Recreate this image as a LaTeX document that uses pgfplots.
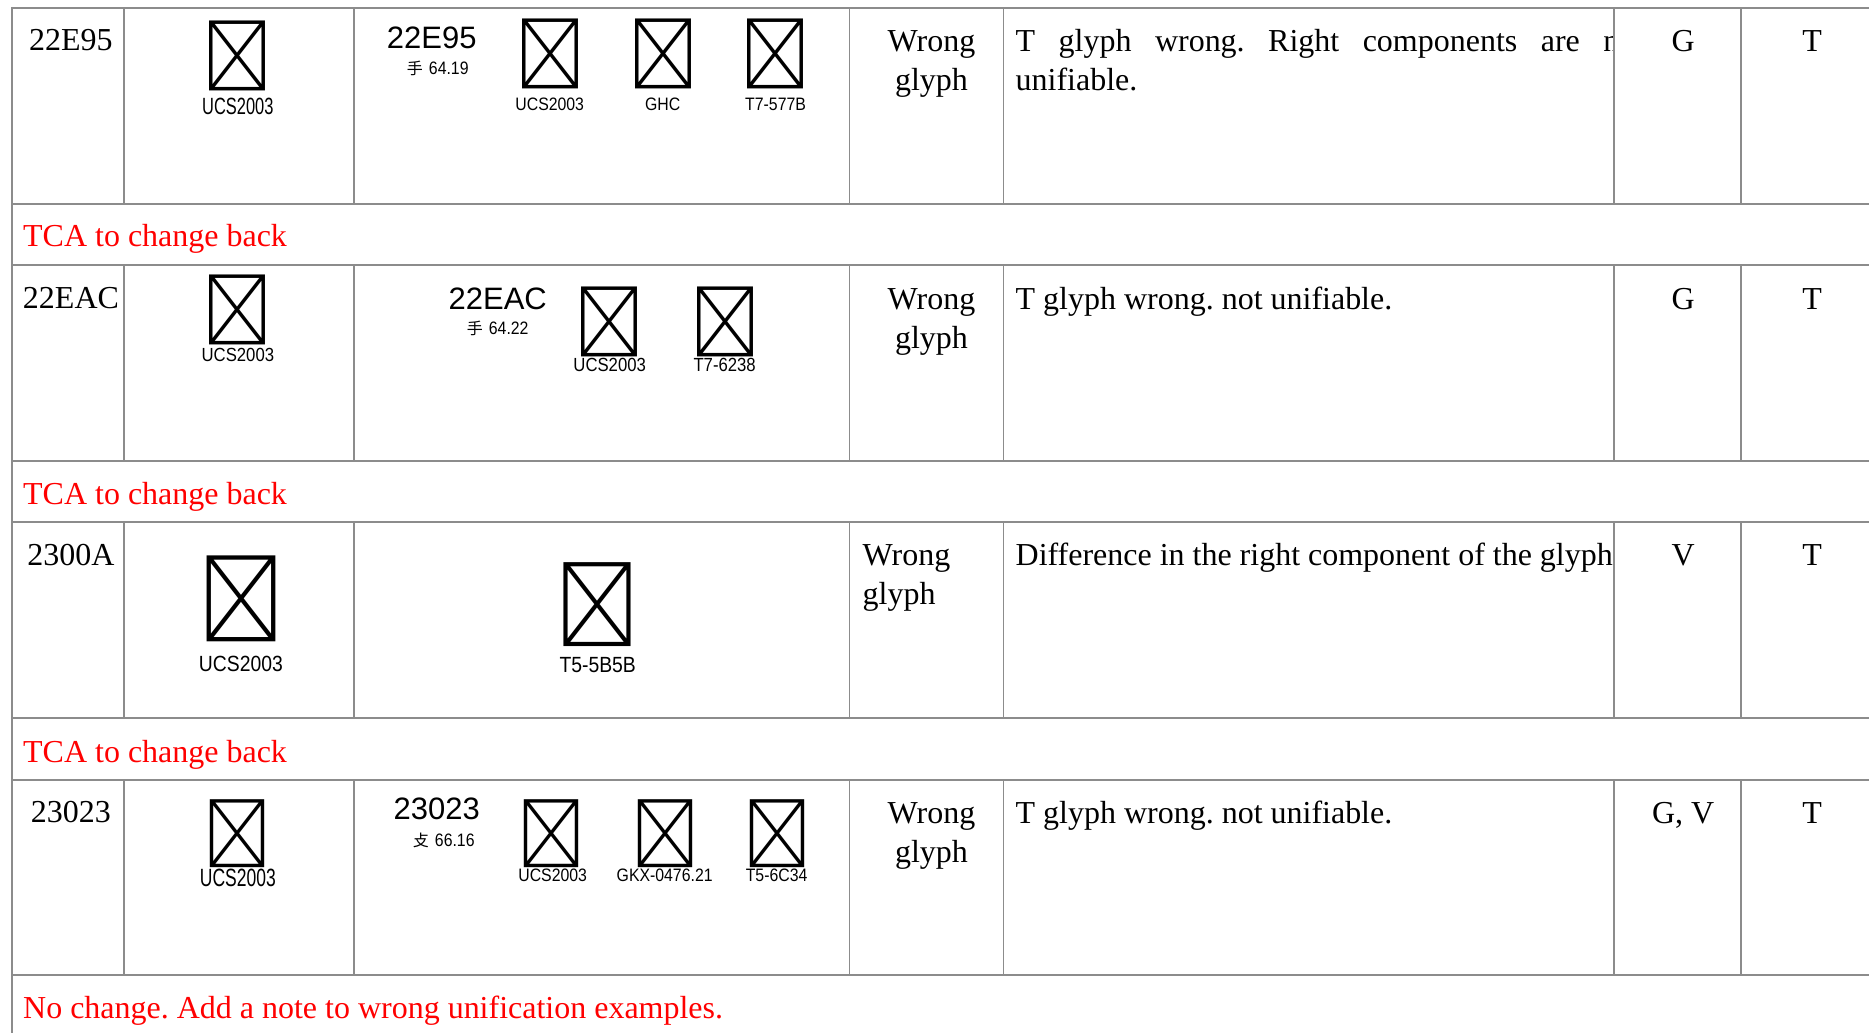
\documentclass[border=0pt]{standalone}
\usepackage{fontspec}
\setmainfont{Liberation Serif}
\newfontfamily\sansf{Liberation Sans}
\newfontfamily\labA[FakeStretch=0.7]{Liberation Sans}
\newfontfamily\labB[FakeStretch=0.88]{Liberation Sans}
\newfontfamily\cjktc{Noto Sans CJK TC}
\newfontfamily\cjksc{Noto Sans CJK SC}
\newfontfamily\cjkjp{Noto Sans CJK JP}
\usepackage{pgfplots}
\pgfplotsset{compat=1.18}
\definecolor{rulec}{RGB}{140,140,140}
\definecolor{tred}{RGB}{255,0,0}
\newcommand{\txt}{\frenchspacing\fontsize{32}{39}\selectfont}
\newcommand{\fs}[1]{\fontsize{#1}{#1}\selectfont}
\begin{document}
\frenchspacing
\begin{tikzpicture}
\begin{axis}[width=1870pt, height=1034pt, scale only axis,
  xmin=0, xmax=1870, ymin=0, ymax=1034, y dir=reverse,
  hide axis, clip=false]
\addplot[draw=none] coordinates {(0,0) (1870,1034)};
% horizontal rules
\addplot[rulec, line width=2pt] coordinates {(12,8) (1870,8)};
\addplot[rulec, line width=2pt] coordinates {(12,204) (1870,204)};
\addplot[rulec, line width=2pt] coordinates {(12,265.5) (1870,265.5)};
\addplot[rulec, line width=2pt] coordinates {(12,461) (1870,461)};
\addplot[rulec, line width=2pt] coordinates {(12,522) (1870,522)};
\addplot[rulec, line width=2pt] coordinates {(12,718) (1870,718)};
\addplot[rulec, line width=2pt] coordinates {(12,780) (1870,780)};
\addplot[rulec, line width=2pt] coordinates {(12,976) (1870,976)};
% left border
\addplot[rulec, line width=1.6pt] coordinates {(12,7) (12,1034)};
% inner vertical rules per data row
\foreach \top/\bot in {8/204, 265.5/461, 522/718, 780/976}{
  \foreach \xx in {124,354,850,1004,1615,1742}{
    \edef\tmp{\noexpand\addplot[rulec, line width=1.5pt] coordinates {(\xx,\top) (\xx,\bot)};}
    \tmp
  }
}
% ---------- Row 1 ----------
\node[inner sep=0, anchor=base] at (axis cs:71,51) {\txt 22E95};
\node[inner sep=0] at (axis cs:238,56) {\cjktc\fs{70}\char"22E95};
\node[inner sep=0, anchor=base] at (axis cs:238,115) {\labA\fs{23.5}UCS2003};
\node[inner sep=0, anchor=base] at (axis cs:432,49) {\sansf\fs{31}22E95};
\node[inner sep=0, anchor=base] at (axis cs:438,75) {{\cjktc\fs{16}手}\hspace{6pt}{\labB\fs{18}64.19}};
\node[inner sep=0] at (axis cs:551,54) {\cjktc\fs{70}\char"22E95};
\node[inner sep=0, anchor=base] at (axis cs:550,111) {\labB\fs{18}UCS2003};
\node[inner sep=0] at (axis cs:664,54) {\cjksc\fs{70}\char"22E95};
\node[inner sep=0, anchor=base] at (axis cs:663,111) {\labB\fs{18}GHC};
\node[inner sep=0] at (axis cs:776,54) {\cjkjp\fs{70}\char"22E95};
\node[inner sep=0, anchor=base] at (axis cs:776,111) {\labB\fs{18}T7-577B};
\node[inner sep=0, anchor=base] at (axis cs:932,52) {\txt Wrong};
\node[inner sep=0, anchor=base] at (axis cs:932,91) {\txt glyph};
\begin{scope}
\clip (axis cs:1004,8) rectangle (axis cs:1613,204);
\node[inner sep=0, anchor=base west] at (axis cs:1016,52) {\txt\makebox[604pt][s]{T glyph wrong. Right components are n}};
\end{scope}
\node[inner sep=0, anchor=base west] at (axis cs:1016,91) {\txt unifiable.};
\node[inner sep=0, anchor=base] at (axis cs:1684,52) {\txt G};
\node[inner sep=0, anchor=base] at (axis cs:1813,52) {\txt T};
\node[inner sep=0, anchor=base west, text=tred] at (axis cs:23,247) {\txt TCA to change back};
% ---------- Row 2 ----------
\node[inner sep=0, anchor=base] at (axis cs:71,309) {\txt 22EAC};
\node[inner sep=0] at (axis cs:238,310) {\cjktc\fs{70}\char"22EAC};
\node[inner sep=0, anchor=base] at (axis cs:238,362) {\labB\fs{19}UCS2003};
\node[inner sep=0, anchor=base] at (axis cs:498,310) {\sansf\fs{31}22EAC};
\node[inner sep=0, anchor=base] at (axis cs:498,335) {{\cjktc\fs{16}手}\hspace{6pt}{\labB\fs{18}64.22}};
\node[inner sep=0] at (axis cs:610,322) {\cjktc\fs{70}\char"22EAC};
\node[inner sep=0, anchor=base] at (axis cs:610,372) {\labB\fs{19}UCS2003};
\node[inner sep=0] at (axis cs:726,322) {\cjkjp\fs{70}\char"22EAC};
\node[inner sep=0, anchor=base] at (axis cs:725,372) {\labB\fs{19}T7-6238};
\node[inner sep=0, anchor=base] at (axis cs:932,309.5) {\txt Wrong};
\node[inner sep=0, anchor=base] at (axis cs:932,348.5) {\txt glyph};
\node[inner sep=0, anchor=base west] at (axis cs:1016,309.5) {\txt T glyph wrong. not unifiable.};
\node[inner sep=0, anchor=base] at (axis cs:1684,309.5) {\txt G};
\node[inner sep=0, anchor=base] at (axis cs:1813,309.5) {\txt T};
\node[inner sep=0, anchor=base west, text=tred] at (axis cs:23,505) {\txt TCA to change back};
% ---------- Row 3 ----------
\node[inner sep=0, anchor=base] at (axis cs:71,566) {\txt 2300A};
\node[inner sep=0] at (axis cs:242,599) {\cjktc\fs{86}\char"2300A};
\node[inner sep=0, anchor=base] at (axis cs:241,672) {\labB\fs{22}UCS2003};
\node[inner sep=0] at (axis cs:598,605) {\cjkjp\fs{84}\char"2300A};
\node[inner sep=0, anchor=base] at (axis cs:598,673) {\labB\fs{22}T5-5B5B};
\node[inner sep=0, anchor=base west] at (axis cs:863,566) {\txt Wrong};
\node[inner sep=0, anchor=base west] at (axis cs:863,605) {\txt glyph};
\node[inner sep=0, anchor=base west] at (axis cs:1016,566) {\txt Difference in the right component of the glyph};
\node[inner sep=0, anchor=base] at (axis cs:1684,566) {\txt V};
\node[inner sep=0, anchor=base] at (axis cs:1813,566) {\txt T};
\node[inner sep=0, anchor=base west, text=tred] at (axis cs:23,763) {\txt TCA to change back};
% ---------- Row 4 ----------
\node[inner sep=0, anchor=base] at (axis cs:71,823) {\txt 23023};
\node[inner sep=0] at (axis cs:238,834) {\cjktc\fs{68}\char"23023};
\node[inner sep=0, anchor=base] at (axis cs:238,887) {\labA\fs{25}UCS2003};
\node[inner sep=0, anchor=base] at (axis cs:437,820) {\sansf\fs{31}23023};
\node[inner sep=0, anchor=base] at (axis cs:444,847) {{\cjktc\fs{16}攴}\hspace{6pt}{\labB\fs{18}66.16}};
\node[inner sep=0] at (axis cs:552,834) {\cjktc\fs{68}\char"23023};
\node[inner sep=0, anchor=base] at (axis cs:553,882) {\labB\fs{18}UCS2003};
\node[inner sep=0] at (axis cs:666,834) {\cjksc\fs{68}\char"23023};
\node[inner sep=0, anchor=base] at (axis cs:665,882) {\labB\fs{18}GKX-0476.21};
\node[inner sep=0] at (axis cs:778,834) {\cjkjp\fs{68}\char"23023};
\node[inner sep=0, anchor=base] at (axis cs:777,882) {\labB\fs{18}T5-6C34};
\node[inner sep=0, anchor=base] at (axis cs:932,824) {\txt Wrong};
\node[inner sep=0, anchor=base] at (axis cs:932,863) {\txt glyph};
\node[inner sep=0, anchor=base west] at (axis cs:1016,824) {\txt T glyph wrong. not unifiable.};
\node[inner sep=0, anchor=base] at (axis cs:1684,824) {\txt G, V};
\node[inner sep=0, anchor=base] at (axis cs:1813,824) {\txt T};
\node[inner sep=0, anchor=base west, text=tred] at (axis cs:23,1019) {\txt No change. Add a note to wrong unification examples.};
\end{axis}
\end{tikzpicture}
\end{document}
